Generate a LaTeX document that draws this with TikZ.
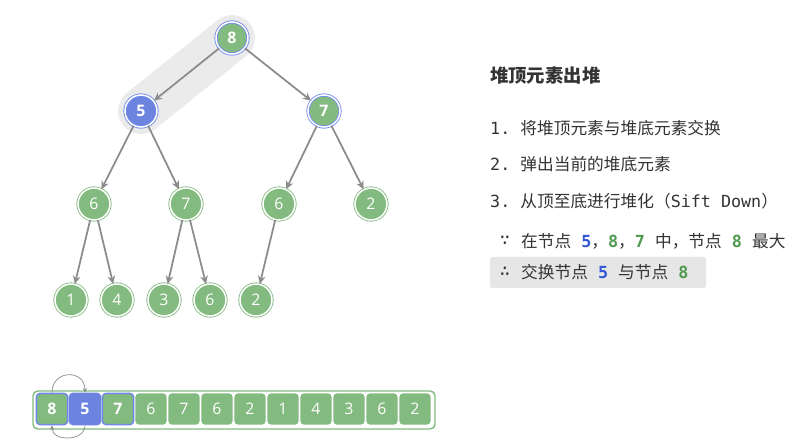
\documentclass[tikz,border=0pt]{standalone}
\usepackage{fontspec}
\setmainfont{Open Sans}
\setmonofont{DejaVu Sans Mono}
\newfontfamily\cjkfont{Noto Sans CJK SC}
\usetikzlibrary{arrows.meta}

\definecolor{heapgreen}{HTML}{83BA7F}
\definecolor{heapblue}{HTML}{6C84E0}
\definecolor{ringblue}{HTML}{6F88EC}
\definecolor{edgegray}{HTML}{8C8C8C}
\definecolor{bandgray}{HTML}{EBEBEB}
\definecolor{boxgray}{HTML}{E6E6E6}
\definecolor{txtdark}{HTML}{333333}
\definecolor{numblue}{HTML}{3357D6}
\definecolor{numgreen}{HTML}{4F9A4F}

\tikzset{
  heapnode/.style={circle, minimum size=27.2pt, inner sep=0pt, fill=heapgreen,
    draw=heapgreen, double=white, double distance=1.3pt, line width=0.7pt,
    text=white, font=\fontsize{13.5}{14}\selectfont},
  hinode/.style={heapnode, draw=ringblue, font=\fontsize{13.5}{14}\selectfont\bfseries},
  picknode/.style={hinode, fill=heapblue},
  heapedge/.style={draw=edgegray, line width=1.5pt, -{Stealth[length=7pt,width=6.5pt]}},
  cell/.style={rounded corners=3pt, minimum width=26.5pt, minimum height=26.5pt,
    inner sep=0pt, fill=heapgreen, text=white, font=\fontsize{13.5}{14}\selectfont},
  hicell/.style={cell, draw=ringblue, line width=1.2pt, font=\fontsize{13.5}{14}\selectfont\bfseries},
  pickcell/.style={hicell, fill=heapblue, draw=heapblue},
  swaparrow/.style={draw=edgegray, line width=0.6pt, -{Stealth[length=4pt,width=3.5pt]}},
  txt/.style={anchor=west, inner sep=0pt, text=txtdark,
    font=\fontsize{14.2}{16}\selectfont\ttfamily\frenchspacing},
}

\begin{document}
\begin{tikzpicture}[x=0.85pt, y=-0.85pt]
  \useasboundingbox (0,0) rectangle (808,445);
  % --- bande de mise en evidence ---
  \draw[bandgray, line width=39pt, line cap=round] (232,38) -- (141,111);
  % --- arbre ---
  \node[hinode] (n8) at (232,38) {8};
  \node[picknode] (n5) at (141,111) {5};
  \node[hinode] (n7) at (324,111) {7};
  \foreach \name/\x/\y/\val in {m6/94/204/6, m7/186/204/7, m6b/279/204/6, m2/371/204/2,
    l1/71/300/1, l4/117/300/4, l3/164/300/3, l6/210/300/6, l2/256/300/2}{
    \node[heapnode] (\name) at (\x,\y) {\val};
  }
  \foreach \a/\b in {n8/n5, n8/n7, n5/m6, n5/m7, n7/m6b, n7/m2,
    m6/l1, m6/l4, m7/l3, m7/l6, m6b/l2}{
    \draw[heapedge] (\a) -- (\b);
  }
  % --- tableau ---
  \node[draw=heapgreen, line width=1.2pt, rounded corners=4pt, minimum width=341.7pt,
    minimum height=32.3pt, inner sep=0pt] (arr) at (234,410) {};
  \node[hicell] (a1) at (52,409) {8};
  \node[pickcell] (a2) at (85,409) {5};
  \node[hicell] (a3) at (118,409) {7};
  \foreach \v [count=\i from 4] in {6,7,6,2,1,4,3,6,2}{
    \node[cell] (a\i) at (52+33*\i-33,409) {\v};
  }
  \draw[swaparrow] (a1.north) .. controls +(0,20pt) and +(0,20pt) .. (a2.north);
  \draw[swaparrow] (a2.south) .. controls +(0,-14pt) and +(0,-14pt) .. (a1.south);
  % --- texte ---
  \node[anchor=west, inner sep=0pt, text=txtdark, font=\fontsize{15.6}{18}\selectfont\cjkfont\bfseries]
    (title) at (490,76) {堆顶元素出堆};
  \node[txt] (s1) at (490,128) {1. {\cjkfont 将堆顶元素与堆底元素交换}};
  \node[txt] (s2) at (490,164) {2. {\cjkfont 弹出当前的堆底元素}};
  \node[txt] (s3) at (490,201) {3. {\cjkfont 从顶至底进行堆化（}Sift Down{\cjkfont ）}};
  \node[txt, anchor=center] (because) at (505,241) {∵};
  \node[txt] (s4) at (521,241) {{\cjkfont 在节点} {\bfseries\color{numblue}5}{\cjkfont ，}{\bfseries\color{numgreen}8}{\cjkfont ，}{\bfseries\color{numgreen}7} {\cjkfont 中，节点} {\bfseries\color{numgreen}8} {\cjkfont 最大}};
  \node[fill=boxgray, rounded corners=2pt, minimum width=183.6pt, minimum height=26.4pt,
    inner sep=0pt] (box) at (598,272.5) {};
  \node[txt, anchor=center] (hence) at (505,272) {∴};
  \node[txt] (s5) at (521,272) {{\cjkfont 交换节点} {\bfseries\color{numblue}5} {\cjkfont 与节点} {\bfseries\color{numgreen}8}};
\end{tikzpicture}
\end{document}
